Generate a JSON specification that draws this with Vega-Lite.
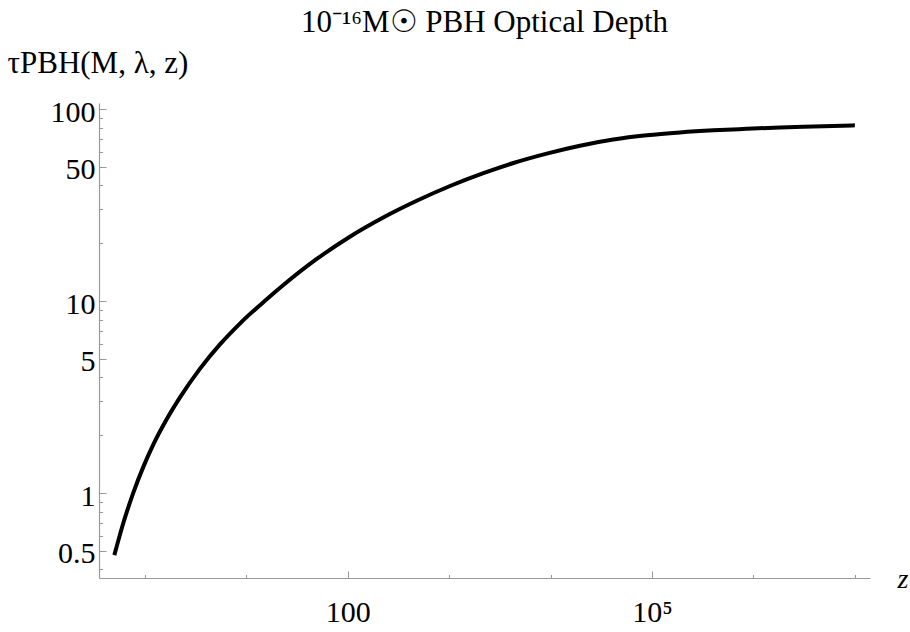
{
  "$schema": "https://vega.github.io/schema/vega-lite/v6.json",
  "width": 771,
  "height": 475,
  "autosize": {"type": "none"},
  "padding": {"left": 99, "top": 103, "right": 40, "bottom": 54},
  "background": "white",
  "config": {"view": {"stroke": null}},
  "title": {
    "text": "10⁻¹⁶M☉ PBH Optical Depth",
    "font": "Liberation Serif",
    "fontSize": 31,
    "fontWeight": "normal",
    "color": "black",
    "anchor": "middle",
    "frame": "group",
    "baseline": "alphabetic",
    "offset": -16
  },
  "data": {
    "values": [
      {"z": 0.5, "tau": 0.475},
      {"z": 0.61, "tau": 0.692},
      {"z": 0.77, "tau": 1.005},
      {"z": 0.97, "tau": 1.377},
      {"z": 1.21, "tau": 1.786},
      {"z": 1.64, "tau": 2.421},
      {"z": 2.22, "tau": 3.148},
      {"z": 3.5, "tau": 4.446},
      {"z": 5.5, "tau": 5.943},
      {"z": 8.7, "tau": 7.656},
      {"z": 15.9, "tau": 10.21},
      {"z": 23.2, "tau": 12.11},
      {"z": 49.5, "tau": 16.56},
      {"z": 105, "tau": 21.63},
      {"z": 224, "tau": 27.23},
      {"z": 479, "tau": 33.27},
      {"z": 1020, "tau": 39.72},
      {"z": 2175, "tau": 46.34},
      {"z": 4300, "tau": 52.36},
      {"z": 9160, "tau": 58.61},
      {"z": 19500, "tau": 64.42},
      {"z": 41500, "tau": 69.34},
      {"z": 88700, "tau": 72.95},
      {"z": 188800, "tau": 75.51},
      {"z": 402700, "tau": 77.45},
      {"z": 859000, "tau": 78.89},
      {"z": 1830000, "tau": 80.17},
      {"z": 3900000, "tau": 81.1},
      {"z": 10000000, "tau": 82.22}
    ]
  },
  "mark": {"type": "line", "color": "black", "strokeWidth": 4, "interpolate": "monotone", "strokeCap": "butt"},
  "encoding": {
    "x": {
      "field": "z",
      "type": "quantitative",
      "scale": {"type": "log", "domain": [0.353, 14100000], "nice": false},
      "axis": {
        "values": [1, 10, 100, 1000, 10000, 100000, 1000000, 10000000],
        "labelExpr": "datum.value == 100 ? '100' : (datum.value == 100000 ? '10⁵' : '')",
        "tickSize": {"condition": {"test": "datum.value == 100 || datum.value == 100000", "value": -7}, "value": -3.5},
        "tickColor": "#999",
        "domainColor": "#999",
        "tickWidth": 1,
        "domainWidth": 1.2,
        "grid": false,
        "labelFont": "Liberation Serif",
        "labelFontSize": 30,
        "labelColor": "black",
        "labelPadding": 26,
        "labelBaseline": "top",
        "labelOverlap": false,
        "labelFlush": false,
        "title": "z",
        "titleFont": "Liberation Serif",
        "titleFontSize": 28,
        "titleFontStyle": "italic",
        "titleFontWeight": "normal",
        "titleColor": "black",
        "titleAlign": "left",
        "titleBaseline": "alphabetic",
        "titleAngle": 0,
        "titleX": 798,
        "titleY": 9
      }
    },
    "y": {
      "field": "tau",
      "type": "quantitative",
      "scale": {"type": "log", "domain": [0.361, 107.5], "nice": false},
      "axis": {
        "values": [0.4, 0.5, 0.6, 0.7, 0.8, 0.9, 1, 2, 3, 4, 5, 6, 7, 8, 9, 10, 20, 30, 40, 50, 60, 70, 80, 90, 100],
        "labelExpr": "indexof([0.5, 1, 5, 10, 50, 100], datum.value) >= 0 ? datum.label : ''",
        "format": "~g",
        "tickSize": {"condition": {"test": "indexof([0.5, 1, 5, 10, 50, 100], datum.value) >= 0", "value": -7}, "value": -3.5},
        "tickColor": "#999",
        "domainColor": "#999",
        "tickWidth": 1,
        "domainWidth": 1.2,
        "grid": false,
        "labelFont": "Liberation Serif",
        "labelFontSize": 30,
        "labelColor": "black",
        "labelPadding": 11,
        "labelOffset": 3,
        "labelOverlap": false,
        "labelFlush": false,
        "title": "τPBH(M, λ, z)",
        "titleFont": "Liberation Serif",
        "titleFontSize": 31,
        "titleFontWeight": "normal",
        "titleColor": "black",
        "titleAngle": 0,
        "titleAlign": "left",
        "titleBaseline": "alphabetic",
        "titleX": -92,
        "titleY": -31
      }
    }
  }
}
